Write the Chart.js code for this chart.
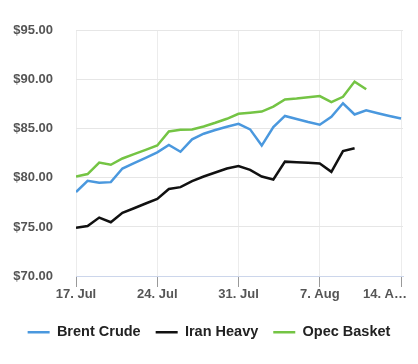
<!DOCTYPE html>
<html>
<head>
<meta charset="utf-8">
<script src="https://cdn.jsdelivr.net/npm/chart.js@4/dist/chart.umd.min.js"></script>
<style>
  html, body { margin: 0; padding: 0; background: #fff; }
  #wrap { width: 418px; height: 364px; }
</style>
</head>
<body>
<div id="wrap"><canvas id="oilChart" width="418" height="364"></canvas></div>
<script>
// daily points, 17 Jul .. 14 Aug
const dates = ['17 Jul', '18 Jul', '19 Jul', '20 Jul', '21 Jul', '22 Jul', '23 Jul', '24 Jul',
  '25 Jul', '26 Jul', '27 Jul', '28 Jul', '29 Jul', '30 Jul', '31 Jul', '1 Aug', '2 Aug',
  '3 Aug', '4 Aug', '5 Aug', '6 Aug', '7 Aug', '8 Aug', '9 Aug', '10 Aug', '11 Aug',
  '12 Aug', '13 Aug', '14 Aug'];

const brentCrude = [78.56, 79.70, 79.51, 79.57, 80.96, 81.50, 82.04, 82.61, 83.37, 82.67,
  83.94, 84.51, 84.89, 85.21, 85.52, 84.95, 83.30, 85.18, 86.32, 86.01, 85.70, 85.42,
  86.24, 87.61, 86.47, 86.89, 86.60, 86.32, 86.05];
const iranHeavy = [74.91, 75.10, 75.96, 75.48, 76.44, 76.91, 77.39, 77.86, 78.87, 79.06,
  79.67, 80.14, 80.55, 80.96, 81.22, 80.82, 80.14, 79.84, 81.66, 81.60, 81.55, 81.47,
  80.62, 82.74, 83.03];
const opecBasket = [80.14, 80.39, 81.57, 81.34, 81.98, 82.42, 82.86, 83.31, 84.74, 84.90,
  84.93, 85.24, 85.62, 86.03, 86.54, 86.64, 86.76, 87.27, 88.00, 88.09, 88.22, 88.34,
  87.72, 88.27, 89.82, 89.04];

const tickDays = [0, 7, 14, 21, 28];
const tickLabels = ['17. Jul', '24. Jul', '31. Jul', '7. Aug', '14. A…'];

function toPoints(values) {
  return values.map((v, i) => ({ x: i, y: v }));
}

// x labels drawn by hand so the last one can be pushed inside the canvas like the original
const xLabelPlugin = {
  id: 'xLabels',
  afterDraw(chart) {
    const ctx = chart.ctx;
    const scale = chart.scales.x;
    ctx.save();
    ctx.font = 'bold 13px "Liberation Sans", Arial, sans-serif';
    ctx.fillStyle = '#555';
    ctx.textBaseline = 'middle';
    ctx.textAlign = 'left';
    tickDays.forEach((d, i) => {
      const px = scale.getPixelForValue(d);
      const w = ctx.measureText(tickLabels[i]).width;
      const left = Math.min(px - w / 2, chart.width - 11 - w);
      ctx.fillText(tickLabels[i], left, scale.top + 18);
    });
    ctx.restore();
  }
};

const ctx = document.getElementById('oilChart').getContext('2d');
new Chart(ctx, {
  type: 'line',
  data: {
    datasets: [
      { label: 'Brent Crude', data: toPoints(brentCrude), borderColor: '#4a98de', backgroundColor: '#4a98de', borderWidth: 2.5 },
      { label: 'Iran Heavy', data: toPoints(iranHeavy), borderColor: '#111111', backgroundColor: '#111111', borderWidth: 2.5 },
      { label: 'Opec Basket', data: toPoints(opecBasket), borderColor: '#74c444', backgroundColor: '#74c444', borderWidth: 2.5 }
    ]
  },
  options: {
    responsive: false,
    animation: false,
    layout: { padding: { top: 13, left: 7, right: 7, bottom: 14.5 } },
    elements: {
      line: { tension: 0 },
      point: { radius: 0 }
    },
    scales: {
      x: {
        type: 'linear',
        min: 0,
        max: 28.17,
        afterFit: s => { s.height = 34; s.paddingLeft = 0; s.paddingRight = 0; },
        ticks: { display: false, stepSize: 7, includeBounds: false },
        grid: { color: '#ececec', tickColor: '#999', tickLength: 11 },
        border: { color: '#ccd6eb', width: 1 }
      },
      y: {
        min: 70,
        max: 95,
        afterFit: s => { s.width = 69; },
        ticks: {
          stepSize: 5,
          padding: 23,
          color: '#555',
          font: { family: '"Liberation Sans", Arial, sans-serif', size: 13, weight: 'bold' },
          callback: v => '$' + v.toFixed(2)
        },
        grid: { color: '#e6e6e6', drawTicks: false },
        border: { display: false }
      },
      // empty spacer on the right so the legend stays centred on the canvas
      spacer: {
        position: 'right',
        afterFit: s => { s.width = 8; },
        ticks: { display: false },
        grid: { drawOnChartArea: false, drawTicks: false },
        border: { display: false }
      }
    },
    plugins: {
      tooltip: { enabled: false },
      legend: {
        position: 'bottom',
        labels: {
          usePointStyle: true,
          pointStyle: 'line',
          pointStyleWidth: 22,
          padding: 15,
          color: '#222',
          font: { family: '"Liberation Sans", Arial, sans-serif', size: 14.5, weight: 'bold' }
        }
      }
    }
  },
  plugins: [xLabelPlugin]
});
</script>
</body>
</html>
